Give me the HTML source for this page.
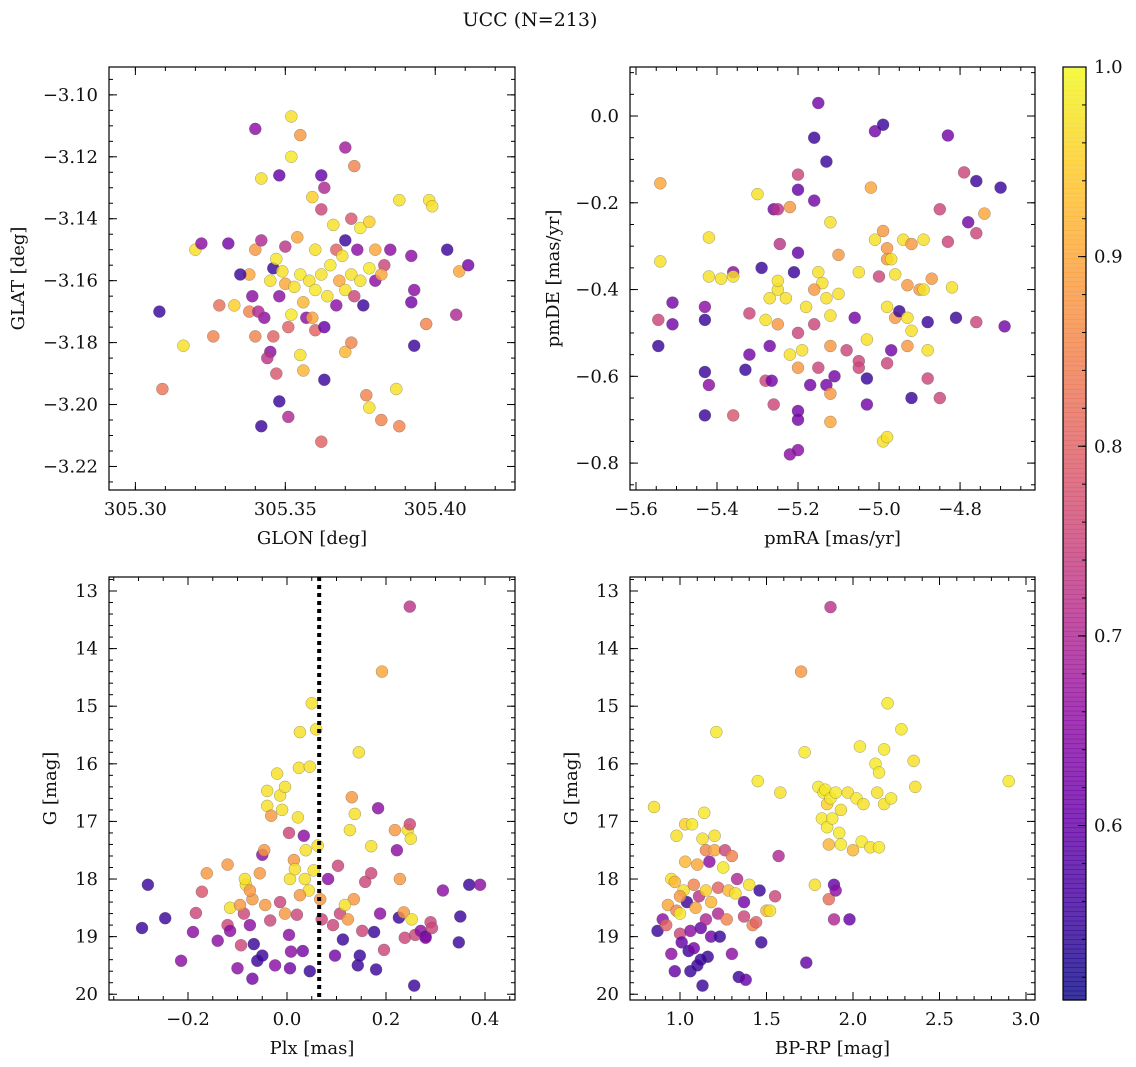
<!DOCTYPE html>
<html><head><meta charset="utf-8"><style>
html,body{margin:0;padding:0;background:#fff}
svg{display:block}
text{font-family:"DejaVu Serif","Liberation Serif",serif;fill:#111}
</style></head><body>
<svg id="fig" width="1136" height="1067" viewBox="0 0 1136 1067" xmlns="http://www.w3.org/2000/svg">
<text x="530" y="26" font-size="19" text-anchor="middle">UCC (N=213)</text>
</svg>
<script>
// ---------- data ----------
const glon = [305.308,305.309,305.316,305.320,305.331,305.339,305.338,305.340,305.342,305.346,305.349,305.340,305.342,305.348,305.348,305.345,305.347,305.352,305.355,305.352,305.362,305.370,305.373,305.363,305.362,305.359,305.350,305.354,305.360,305.366,305.372,305.375,305.378,305.370,305.374,305.380,305.383,305.385,305.388,305.398,305.399,305.404,305.408,305.411,305.407,305.397,305.392,305.393,305.392,305.393,305.387,305.388,305.382,305.377,305.378,305.370,305.372,305.363,305.362,305.355,305.351,305.356,305.360,305.363,305.357,305.352,305.348,305.350,305.345,305.338,305.335,305.333,305.328,305.326,305.322,305.340,305.342,305.347,305.355,305.358,305.360,305.362,305.365,305.368,305.370,305.367,305.372,305.375,305.378,305.380,305.376,305.382,305.356,305.353,305.364,305.359,305.367,305.369,305.373,305.351,305.346,305.343,305.341,305.344];
const glat = [-3.170,-3.195,-3.181,-3.150,-3.148,-3.165,-3.170,-3.178,-3.207,-3.156,-3.157,-3.111,-3.127,-3.126,-3.199,-3.183,-3.190,-3.107,-3.113,-3.120,-3.126,-3.117,-3.123,-3.130,-3.137,-3.133,-3.149,-3.146,-3.150,-3.142,-3.140,-3.143,-3.141,-3.147,-3.150,-3.150,-3.155,-3.150,-3.134,-3.134,-3.136,-3.150,-3.157,-3.155,-3.171,-3.174,-3.152,-3.163,-3.167,-3.181,-3.195,-3.207,-3.205,-3.197,-3.201,-3.183,-3.180,-3.192,-3.212,-3.184,-3.204,-3.189,-3.176,-3.175,-3.172,-3.171,-3.165,-3.161,-3.160,-3.158,-3.158,-3.168,-3.168,-3.178,-3.148,-3.150,-3.147,-3.153,-3.158,-3.160,-3.163,-3.158,-3.155,-3.160,-3.163,-3.168,-3.158,-3.160,-3.156,-3.160,-3.168,-3.158,-3.167,-3.162,-3.165,-3.172,-3.150,-3.152,-3.165,-3.175,-3.178,-3.172,-3.170,-3.185];
const prob1 = [0.55,0.83,0.97,0.97,0.62,0.65,0.85,0.85,0.55,0.55,0.97,0.65,0.97,0.6,0.55,0.65,0.78,0.97,0.88,0.98,0.6,0.68,0.85,0.7,0.75,0.95,0.72,0.9,0.97,0.97,0.78,0.98,0.95,0.55,0.65,0.9,0.75,0.65,0.97,0.97,0.97,0.55,0.9,0.62,0.7,0.85,0.65,0.65,0.62,0.55,0.97,0.85,0.85,0.85,0.97,0.92,0.85,0.55,0.8,0.97,0.7,0.92,0.8,0.6,0.65,0.98,0.65,0.9,0.97,0.9,0.55,0.95,0.82,0.85,0.65,0.88,0.7,0.98,0.98,0.97,0.98,0.97,0.98,0.9,0.97,0.65,0.97,0.97,0.98,0.65,0.55,0.9,0.92,0.97,0.97,0.9,0.8,0.97,0.75,0.8,0.8,0.65,0.7,0.72];

const pmra = [-5.54,-5.54,-5.545,-5.51,-5.51,-5.545,-5.43,-5.43,-5.43,-5.42,-5.42,-5.39,-5.43,-5.42,-5.36,-5.33,-5.32,-5.32,-5.36,-5.36,-5.30,-5.29,-5.27,-5.25,-5.25,-5.27,-5.28,-5.265,-5.26,-5.26,-5.25,-5.22,-5.245,-5.21,-5.20,-5.20,-5.20,-5.20,-5.20,-5.22,-5.20,-5.20,-5.19,-5.16,-5.15,-5.16,-5.13,-5.12,-5.15,-5.14,-5.16,-5.13,-5.12,-5.10,-5.11,-5.13,-5.12,-5.03,-5.03,-5.05,-5.03,-5.06,-5.02,-5.01,-4.99,-5.01,-4.99,-4.94,-4.98,-4.98,-4.97,-5.0,-4.98,-4.96,-4.97,-4.98,-4.99,-4.98,-4.95,-4.93,-4.92,-4.93,-4.92,-4.92,-4.89,-4.93,-4.96,-4.90,-4.88,-4.88,-4.87,-4.85,-4.83,-4.85,-4.88,-4.89,-4.83,-4.79,-4.76,-4.82,-4.81,-4.78,-4.76,-4.74,-4.70,-4.69,-4.76,-5.23,-5.18,-5.25,-5.16,-5.12,-5.08,-5.05,-5.1,-5.05,-5.2,-5.22,-5.28,-5.17,-5.12,-5.15];
const pmde = [-0.155,-0.335,-0.47,-0.48,-0.43,-0.53,-0.69,-0.47,-0.44,-0.28,-0.37,-0.375,-0.59,-0.62,-0.69,-0.585,-0.55,-0.455,-0.36,-0.37,-0.18,-0.35,-0.42,-0.40,-0.38,-0.53,-0.61,-0.61,-0.665,-0.215,-0.215,-0.21,-0.295,-0.36,-0.315,-0.135,-0.17,-0.68,-0.70,-0.78,-0.77,-0.58,-0.54,-0.05,0.03,-0.195,-0.105,-0.245,-0.36,-0.385,-0.40,-0.42,-0.46,-0.41,-0.60,-0.62,-0.705,-0.665,-0.605,-0.565,-0.515,-0.465,-0.165,-0.285,-0.265,-0.035,-0.02,-0.285,-0.305,-0.33,-0.33,-0.37,-0.44,-0.465,-0.54,-0.57,-0.75,-0.74,-0.45,-0.465,-0.495,-0.53,-0.65,-0.295,-0.285,-0.39,-0.365,-0.40,-0.54,-0.475,-0.375,-0.215,-0.29,-0.65,-0.605,-0.40,-0.045,-0.13,-0.15,-0.395,-0.465,-0.245,-0.27,-0.225,-0.165,-0.485,-0.475,-0.42,-0.44,-0.48,-0.48,-0.53,-0.54,-0.58,-0.32,-0.36,-0.5,-0.55,-0.47,-0.62,-0.64,-0.58];
const prob2 = [0.9,0.97,0.75,0.62,0.62,0.55,0.55,0.55,0.65,0.97,0.97,0.97,0.55,0.65,0.78,0.55,0.62,0.75,0.65,0.97,0.97,0.55,0.97,0.97,0.97,0.62,0.75,0.62,0.75,0.62,0.72,0.88,0.72,0.55,0.6,0.75,0.6,0.62,0.62,0.65,0.65,0.88,0.97,0.55,0.62,0.62,0.55,0.97,0.97,0.97,0.88,0.97,0.97,0.97,0.62,0.62,0.9,0.62,0.55,0.75,0.97,0.62,0.9,0.97,0.88,0.62,0.55,0.97,0.88,0.88,0.97,0.75,0.97,0.88,0.62,0.75,0.97,0.97,0.55,0.97,0.97,0.88,0.55,0.88,0.97,0.88,0.97,0.88,0.97,0.55,0.88,0.75,0.75,0.75,0.75,0.97,0.62,0.75,0.55,0.97,0.55,0.62,0.75,0.9,0.55,0.62,0.75,0.97,0.97,0.88,0.75,0.88,0.75,0.75,0.88,0.97,0.75,0.97,0.97,0.62,0.88,0.75];

const plx = [-0.281,-0.293,-0.246,-0.214,-0.19,-0.184,-0.172,-0.162,-0.14,-0.12,-0.12,-0.115,-0.10,-0.093,-0.087,-0.083,-0.075,-0.07,-0.07,-0.06,-0.067,-0.055,-0.05,-0.046,-0.04,-0.04,-0.032,-0.02,-0.014,-0.004,-0.01,0.004,0.014,0.022,0.024,0.026,0.034,0.038,0.046,0.05,0.059,0.044,-0.004,0.004,0.008,0.006,0.032,0.046,-0.014,-0.034,-0.044,0.02,0.067,0.07,0.083,0.093,0.097,0.103,0.113,0.127,0.131,0.137,0.135,0.143,0.147,0.145,0.152,0.158,0.17,0.17,0.18,0.188,0.184,0.176,0.196,0.192,0.218,0.222,0.228,0.226,0.236,0.238,0.244,0.25,0.248,0.252,0.259,0.257,0.248,0.27,0.28,0.29,0.293,0.28,0.315,0.347,0.35,0.368,0.39,-0.085,-0.075,-0.095,0.006,0.016,0.026,0.036,0.054,0.062,-0.115,-0.05,-0.024,0.107,0.117,0.123];
const gmag3 = [18.1,18.85,18.68,19.42,18.92,18.59,18.22,17.9,19.07,18.8,17.75,18.5,19.55,19.15,18.6,18.1,18.8,18.35,19.73,19.42,19.13,17.9,17.58,17.5,16.47,16.73,16.9,16.17,16.55,16.4,16.8,17.2,17.67,16.93,16.07,15.45,17.25,17.5,16.05,14.95,15.4,18.2,18.6,18.97,19.26,19.55,19.25,19.6,18.4,18.72,18.45,18.62,18.35,18.7,18.0,18.8,19.33,17.77,19.05,17.15,16.58,16.87,18.35,19.5,19.33,15.8,18.9,18.05,17.9,17.43,19.57,18.6,16.77,18.92,19.23,14.4,17.15,17.5,18.0,18.67,18.58,19.02,17.15,17.3,17.05,18.7,18.97,19.85,13.27,18.9,19.0,18.75,18.85,19.02,18.2,19.1,18.65,18.1,18.1,18.0,18.2,18.45,18.0,17.83,18.28,18.0,17.85,17.42,18.9,19.33,19.5,18.6,18.45,18.7];
const prob3 = [0.55,0.55,0.55,0.65,0.65,0.75,0.78,0.88,0.65,0.75,0.88,0.97,0.65,0.75,0.75,0.97,0.65,0.88,0.62,0.55,0.55,0.88,0.65,0.88,0.97,0.97,0.88,0.97,0.97,0.97,0.97,0.75,0.88,0.97,0.97,0.97,0.65,0.97,0.97,0.97,0.97,0.97,0.88,0.65,0.65,0.62,0.62,0.55,0.75,0.75,0.88,0.75,0.88,0.75,0.65,0.75,0.62,0.75,0.55,0.97,0.88,0.97,0.88,0.55,0.55,0.97,0.75,0.75,0.75,0.97,0.55,0.65,0.65,0.55,0.75,0.9,0.88,0.65,0.88,0.55,0.88,0.75,0.97,0.97,0.75,0.97,0.75,0.55,0.72,0.65,0.55,0.75,0.75,0.65,0.65,0.55,0.55,0.55,0.65,0.97,0.88,0.88,0.97,0.97,0.88,0.97,0.97,0.97,0.65,0.55,0.65,0.75,0.97,0.88];

const bprp = [0.85,0.87,0.9,0.93,0.95,0.95,0.97,0.97,0.98,0.98,1.0,1.0,1.01,1.02,1.03,1.03,1.04,1.05,1.06,1.06,1.07,1.08,1.09,1.1,1.1,1.11,1.12,1.13,1.13,1.14,1.15,1.15,1.16,1.17,1.18,1.18,1.2,1.2,1.21,1.22,1.22,1.23,1.25,1.26,1.27,1.28,1.3,1.3,1.32,1.33,1.34,1.37,1.37,1.38,1.4,1.42,1.44,1.45,1.46,1.47,1.5,1.52,1.55,1.58,1.57,1.7,1.72,1.73,1.78,1.8,1.82,1.83,1.84,1.85,1.85,1.86,1.86,1.87,1.87,1.88,1.89,1.9,1.89,1.9,1.92,1.93,1.97,1.98,2.0,2.02,2.04,2.05,2.06,2.1,2.13,2.14,2.15,2.15,2.18,2.18,2.2,2.22,2.28,2.35,2.36,2.9,1.93,0.92,1.08,1.12,1.0,1.15];
const gmag4 = [16.75,18.9,18.7,18.45,18.0,19.3,18.05,19.6,18.55,17.25,18.6,18.95,19.1,18.2,17.05,17.7,18.4,19.25,18.9,19.6,17.05,18.1,18.5,17.75,19.5,18.3,18.85,17.3,19.85,16.85,17.5,18.7,19.35,17.7,18.4,19.0,17.5,17.25,15.45,18.15,18.6,19.0,17.8,17.5,18.7,18.2,17.6,19.3,18.25,18.0,19.7,18.4,18.65,19.75,18.1,18.8,18.75,16.3,18.2,19.1,18.55,18.55,18.3,16.5,17.6,14.4,15.8,19.45,18.1,16.4,16.95,16.5,16.45,16.7,17.1,17.4,18.35,13.28,16.6,16.95,18.1,18.2,18.7,16.5,17.2,17.4,16.5,18.7,17.5,16.6,15.7,17.35,16.7,17.45,16.0,16.5,16.15,17.45,16.7,15.75,14.95,16.6,15.4,15.95,16.4,16.3,16.8,18.8,19.2,19.4,18.3,18.2];
const prob4 = [0.97,0.55,0.65,0.9,0.97,0.65,0.92,0.6,0.85,0.97,0.98,0.75,0.6,0.97,0.95,0.92,0.55,0.55,0.65,0.55,0.98,0.85,0.9,0.9,0.55,0.72,0.6,0.97,0.55,0.98,0.85,0.7,0.55,0.65,0.92,0.62,0.9,0.97,0.98,0.8,0.7,0.55,0.98,0.75,0.85,0.92,0.85,0.65,0.97,0.7,0.55,0.62,0.75,0.6,0.97,0.85,0.8,0.98,0.55,0.55,0.92,0.97,0.75,0.97,0.7,0.88,0.98,0.6,0.97,0.98,0.98,0.98,0.98,0.95,0.98,0.92,0.82,0.72,0.98,0.98,0.6,0.65,0.7,0.98,0.98,0.98,0.97,0.6,0.92,0.98,0.98,0.98,0.97,0.97,0.98,0.97,0.98,0.98,0.97,0.98,0.98,0.98,0.98,0.97,0.97,0.98,0.97,0.8,0.62,0.55,0.88,0.95];

const plxRef = [0.065];
const cbTicks = [0.6,0.7,0.8,0.9,1.0];
const vmin = 0.508, vmax = 1.0;

// ---------- helpers ----------
const NS = "http://www.w3.org/2000/svg";
const svg = document.getElementById('fig');
const FS = 18;
function el(tag, attrs, parent){const e=document.createElementNS(NS,tag);for(const k in attrs)e.setAttribute(k,attrs[k]);(parent||svg).appendChild(e);return e;}
const stops=["#0d0887","#41049d","#6a00a8","#8f0da4","#b12a90","#cc4778","#e16462","#f2844b","#fca636","#fcce25","#f0f921"];
function hx(c){return [parseInt(c.slice(1,3),16),parseInt(c.slice(3,5),16),parseInt(c.slice(5,7),16)];}
function plasma(t){t=Math.max(0,Math.min(1,t));const f=t*10,i=Math.min(9,Math.floor(f)),r=f-i;const a=hx(stops[i]),b=hx(stops[i+1]);return `rgb(${a.map((v,k)=>Math.round(v+(b[k]-v)*r)).join(',')})`;}
function cmap(v){return plasma((v-vmin)/(vmax-vmin));}
function fmt(v,d){const s=v.toFixed(d);return s.startsWith('-')?'\u2212'+s.slice(1):s;}

function panel(o){
  const g=el('g',{});
  
  
  const sx=v=>o.x0+(v-o.xmin)/(o.xmax-o.xmin)*(o.x1-o.x0);
  const sy=v=>o.y1-(v-o.ymin)/(o.ymax-o.ymin)*(o.y1-o.y0);
  const pts=el('g',{},g);
  
  
  for(let i=0;i<o.xs.length;i++){
    const c=el('circle',{cx:sx(o.xs[i]).toFixed(1),cy:sy(o.ys[i]).toFixed(1),r:6,fill:cmap(o.cs[i]),'fill-opacity':0.82,stroke:'#555','stroke-width':0.4,'stroke-opacity':0.7},pts);
    
    
  }
  if(o.extra) o.extra(g,sx,sy);
  el('rect',{x:o.x0,y:o.y0,width:o.x1-o.x0,height:o.y1-o.y0,fill:'none',stroke:'#000','stroke-width':1.2},g);
  const tk=el('g',{stroke:'#000','stroke-width':1},g);
  const eps=1e-9;
  function ticksX(step,len,labels,dec){
    const s=Math.ceil((o.xmin-eps)/step);
    for(let k=s;k*step<=o.xmax+eps;k++){const v=k*step,x=sx(v);
      el('line',{x1:x,y1:o.y1,x2:x,y2:o.y1-len},tk);el('line',{x1:x,y1:o.y0,x2:x,y2:o.y0+len},tk);
      if(labels){const t=el('text',{x:x,y:o.y1+25,'font-size':FS,'text-anchor':'middle'},g);t.textContent=fmt(v,dec);
        }}
  }
  function ticksY(step,len,labels,dec,neg){
    const s=Math.ceil((Math.min(o.ymin,o.ymax)-eps)/step);
    for(let k=s;k*step<=Math.max(o.ymin,o.ymax)+eps;k++){const v=k*step,y=sy(v);
      el('line',{x1:o.x0,y1:y,x2:o.x0+len,y2:y},tk);el('line',{x1:o.x1,y1:y,x2:o.x1-len,y2:y},tk);
      if(labels){const t=el('text',{x:o.x0-11,y:y+6,'font-size':FS,'text-anchor':'end'},g);t.textContent=fmt(neg?-v:v,dec);
        }}
  }
  ticksX(o.xmaj,8,true,o.xdec);ticksX(o.xmin_,4,false);
  ticksY(o.ymaj,8,true,o.ydec,o.neg);ticksY(o.ymin_,4,false);
  const xl=el('text',{x:(o.x0+o.x1)/2,y:o.y1+54,'font-size':FS,'text-anchor':'middle'},g);xl.textContent=o.xlabel;
  
  const yx=o.x0-o.ylabOff, yy=(o.y0+o.y1)/2;
  const yl=el('text',{x:yx,y:yy,'font-size':FS,'text-anchor':'middle',transform:`rotate(-90 ${yx} ${yy})`},g);yl.textContent=o.ylabel;
  
}

panel({name:'glon-glat-panel',x0:109,x1:515,y0:67,y1:490,xmin:305.2912,xmax:305.4266,ymin:-3.2276,ymax:-3.0910,
  xs:glon,ys:glat,cs:prob1,xmaj:0.05,xmin_:0.01,xdec:2,ymaj:0.02,ymin_:0.005,ydec:2,xlabel:'GLON [deg]',ylabel:'GLAT [deg]',ylabOff:85});
panel({name:'proper-motion-panel',x0:630,x1:1035,y0:67,y1:490,xmin:-5.6148,xmax:-4.615,ymin:-0.862,ymax:0.113,
  xs:pmra,ys:pmde,cs:prob2,xmaj:0.2,xmin_:0.05,xdec:1,ymaj:0.2,ymin_:0.05,ydec:1,xlabel:'pmRA [mas/yr]',ylabel:'pmDE [mas/yr]',ylabOff:71});
panel({name:'parallax-mag-panel',x0:109,x1:515,y0:577,y1:1000,xmin:-0.3596,xmax:0.4606,ymin:-20.10,ymax:-12.757,neg:true,
  xs:plx,ys:gmag3.map(v=>-v),cs:prob3,xmaj:0.2,xmin_:0.05,xdec:1,ymaj:1,ymin_:0.2,ydec:0,xlabel:'Plx [mas]',ylabel:'G [mag]',ylabOff:53,
  extra:(g,sx,sy)=>{const l=el('line',{x1:sx(plxRef[0]),x2:sx(plxRef[0]),y1:577,y2:1000,stroke:'#000','stroke-width':4,'stroke-dasharray':'4,4'},g);
    }});
panel({name:'cmd-panel',x0:630,x1:1035,y0:577,y1:1000,xmin:0.711,xmax:3.052,ymin:-20.10,ymax:-12.757,neg:true,
  xs:bprp,ys:gmag4.map(v=>-v),cs:prob4,xmaj:0.5,xmin_:0.1,xdec:1,ymaj:1,ymin_:0.2,ydec:0,xlabel:'BP-RP [mag]',ylabel:'G [mag]',ylabOff:53});

// colorbar
const cb=el('g',{});


const cx0=1063,cx1=1086,cy0=67,cy1=1000;
for(let i=0;i<200;i++){const t=i/200;el('rect',{x:cx0,y:(cy1-(i+1)/200*(cy1-cy0)).toFixed(2),width:cx1-cx0,height:((cy1-cy0)/200+0.6).toFixed(2),fill:plasma(t),'fill-opacity':0.82},cb);}
el('rect',{x:cx0,y:cy0,width:cx1-cx0,height:cy1-cy0,fill:'none',stroke:'#000','stroke-width':1.2},cb);
const cby=v=>cy1-(v-vmin)/(vmax-vmin)*(cy1-cy0);
for(let k=26;k<=50;k++){const v=k*0.02;if(v<vmin)continue;const y=cby(v);el('line',{x1:cx1,x2:cx1-4,y1:y,y2:y,stroke:'#000'},cb);}
cbTicks.forEach(v=>{const y=cby(v);el('line',{x1:cx1,x2:cx1-8,y1:y,y2:y,stroke:'#000'},cb);
  const t=el('text',{x:cx1+8,y:y+6,'font-size':FS},cb);t.textContent=v.toFixed(1);
  });
</script>
</body></html>
